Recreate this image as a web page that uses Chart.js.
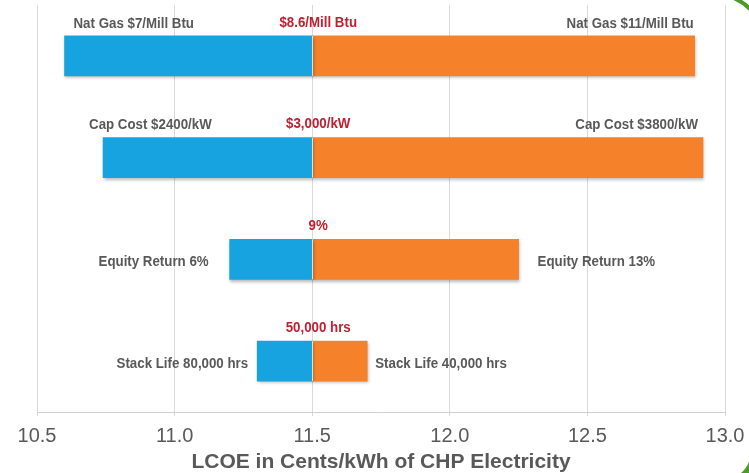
<!DOCTYPE html>
<html>
<head>
<meta charset="utf-8">
<script src="https://cdn.jsdelivr.net/npm/chart.js@4/dist/chart.umd.min.js"></script>
<style>
	body { margin: 0; background: #fff; }
	canvas { display: block; }
</style>
</head>
<body>
<canvas id="tornado" width="749" height="473"></canvas>
<script>
// values
const categories = ['Nat Gas', 'Cap Cost', 'Equity Return', 'Stack Life'];
const baseValue = 11.5;
const lowValues = [10.6, 10.74, 11.2, 11.3];
const highValues = [12.89, 12.92, 12.25, 11.7];
const baseLabels = ['$8.6/Mill Btu', '$3,000/kW', '9%', '50,000 hrs'];
const lowLabels = ['Nat Gas $7/Mill Btu', 'Cap Cost $2400/kW', 'Equity Return 6%', 'Stack Life 80,000 hrs'];
const highLabels = ['Nat Gas $11/Mill Btu', 'Cap Cost $3800/kW', 'Equity Return 13%', 'Stack Life 40,000 hrs'];
const xTicks = [10.5, 11.0, 11.5, 12.0, 12.5, 13.0];

// label placement (pixels)
const labelAbove = [true, true, false, false];
const lowDx = [9, -14, -21, -9];
const highDx = [-1, -5, 19, 8];

const GRAY = '#595959';
const RED = '#c0202f';
const LABEL_FONT = 'bold 14px "Liberation Sans", Arial, sans-serif';
const SQUEEZE = 0.95;

const barShadow = {
	id: 'barShadow',
	beforeDatasetsDraw(chart) {
		const ctx = chart.ctx;
		ctx.save();
		ctx.shadowColor = 'rgba(0,0,0,0.28)';
		ctx.shadowBlur = 3;
		ctx.shadowOffsetY = 2;
		ctx.shadowOffsetX = 1;
	},
	afterDatasetsDraw(chart) {
		chart.ctx.restore();
	}
};

// narrow text, like the condensed face of the original slide
const narrowText = (ctx, text, x, y, align) => {
	ctx.save();
	ctx.translate(x, y);
	ctx.scale(SQUEEZE, 1);
	ctx.textAlign = align;
	ctx.fillText(text, 0, 0);
	ctx.restore();
};

const barLabels = {
	id: 'barLabels',
	afterDatasetsDraw(chart) {
		const ctx = chart.ctx;
		const x = chart.scales.x;
		const meta = chart.getDatasetMeta(0);
		const xb = x.getPixelForValue(baseValue);

		ctx.save();
		// light divider at the base value
		ctx.strokeStyle = 'rgba(235,235,235,0.9)';
		ctx.lineWidth = 1;
		meta.data.forEach(bar => {
			const h = bar.height;
			ctx.beginPath();
			ctx.moveTo(Math.round(xb) + 0.5, bar.y - h / 2);
			ctx.lineTo(Math.round(xb) + 0.5, bar.y + h / 2);
			ctx.stroke();
		});

		ctx.font = LABEL_FONT;
		ctx.textBaseline = 'middle';
		categories.forEach((cat, i) => {
			const bar = meta.data[i];
			const top = bar.y - bar.height / 2;
			const xl = x.getPixelForValue(lowValues[i]);
			const xh = x.getPixelForValue(highValues[i]);

			ctx.fillStyle = RED;
			narrowText(ctx, baseLabels[i], xb + 6, top - 13, 'center');

			ctx.fillStyle = GRAY;
			if (labelAbove[i]) {
				narrowText(ctx, lowLabels[i], xl + lowDx[i], top - 12, 'left');
				narrowText(ctx, highLabels[i], xh + highDx[i], top - 12, 'right');
			} else {
				narrowText(ctx, lowLabels[i], xl + lowDx[i], bar.y + 3, 'right');
				narrowText(ctx, highLabels[i], xh + highDx[i], bar.y + 3, 'left');
			}
		});
		ctx.restore();
	}
};

// slide decoration in the right corners
const cornerArcs = {
	id: 'cornerArcs',
	afterDraw(chart) {
		const ctx = chart.ctx;
		const w = chart.width, h = chart.height;
		ctx.save();
		ctx.strokeStyle = '#4c9a2a';
		ctx.lineWidth = 4;
		ctx.beginPath();
		ctx.moveTo(w - 15, -2);
		ctx.quadraticCurveTo(w - 6, 2, w + 1, 9);
		ctx.stroke();
		ctx.fillStyle = '#4c9a2a';
		ctx.beginPath();
		ctx.moveTo(w, h - 11);
		ctx.quadraticCurveTo(w - 3, h - 4, w - 8, h);
		ctx.lineTo(w, h);
		ctx.closePath();
		ctx.fill();
		ctx.restore();
	}
};

new Chart(document.getElementById('tornado'), {
	type: 'bar',
	data: {
		labels: categories,
		datasets: [{
			label: 'Low',
			data: lowValues.map(v => [v, baseValue]),
			backgroundColor: '#17a3e0',
			borderSkipped: false,
			barThickness: 40,
			grouped: false
		}, {
			label: 'High',
			data: highValues.map(v => [baseValue, v]),
			backgroundColor: '#f5822a',
			borderSkipped: false,
			barThickness: 40,
			grouped: false
		}]
	},
	options: {
		indexAxis: 'y',
		responsive: false,
		animation: false,
		layout: {
			padding: { top: 5, left: 37, right: 24, bottom: 0 }
		},
		plugins: {
			legend: { display: false },
			tooltip: { enabled: false }
		},
		scales: {
			x: {
				min: 10.5,
				max: 13,
				afterBuildTicks: axis => {
					axis.ticks = xTicks.map(v => ({ value: v }));
				},
				afterFit: axis => {
					axis.paddingRight = 20;
					axis.height = 61;
				},
				ticks: {
					callback: v => Number(v).toFixed(1),
					color: GRAY,
					padding: 8,
					maxRotation: 0,
					minRotation: 0,
					autoSkip: false,
					font: { family: '"Liberation Sans", Arial, sans-serif', size: 20 }
				},
				grid: {
					color: '#d9d9d9',
					tickLength: 4
				},
				border: { color: '#d0d0d0' },
				title: {
					display: true,
					text: 'LCOE in Cents/kWh of CHP Electricity',
					color: GRAY,
					padding: { top: 0, bottom: 0 },
					font: { family: '"Liberation Sans", Arial, sans-serif', size: 21, weight: 'bold', lineHeight: 1 }
				}
			},
			y: {
				display: false
			}
		}
	},
	plugins: [barShadow, barLabels, cornerArcs]
});
</script>
</body>
</html>
